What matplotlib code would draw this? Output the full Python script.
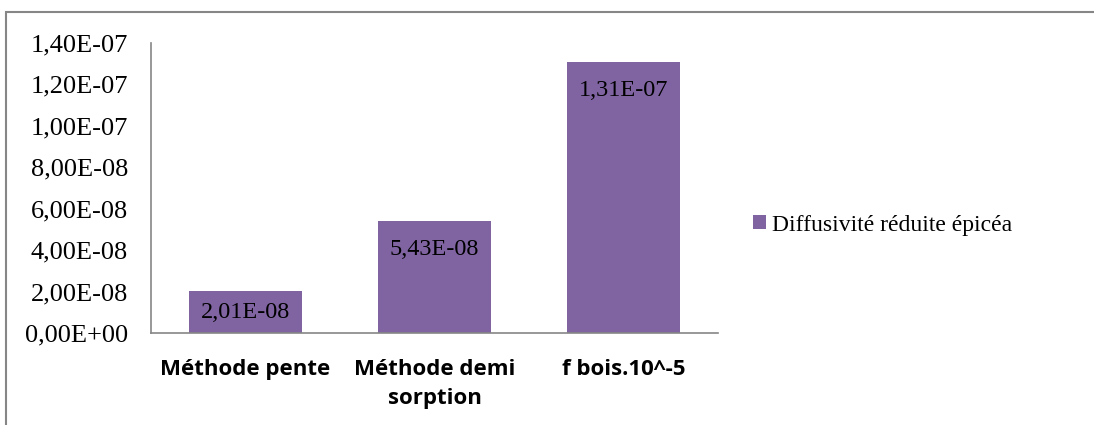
import matplotlib
matplotlib.use("Agg")
import matplotlib.pyplot as plt
from matplotlib.patches import Rectangle, Patch

categories = ["Méthode pente", "Méthode demi\nsorption", "f bois.10^-5"]
values = [2.01e-08, 5.43e-08, 1.31e-07]
value_labels = ["2,01E-08", "5,43E-08", "1,31E-07"]
y_ticks = [0, 2e-08, 4e-08, 6e-08, 8e-08, 1e-07, 1.2e-07, 1.4e-07]
y_tick_labels = ["0,00E+00", "2,00E-08", "4,00E-08", "6,00E-08",
                 "8,00E-08", "1,00E-07", "1,20E-07", "1,40E-07"]
series_name = "Diffusivité réduite épicéa"

BAR_COLOR = "#8064A2"
GRID_GRAY = "#868686"
SERIF = "Liberation Serif"
Y_MAX = 1.4e-07

fig = plt.figure(figsize=(10.94, 4.25), dpi=100)

# outer chart frame (only top and left visible in the reference)
fig.patches.append(Rectangle((6 / 1094, -0.1), 1.2, (1 - 12 / 425) + 0.1,
                             transform=fig.transFigure, fill=False,
                             edgecolor=GRID_GRAY, linewidth=1.5))

ax = fig.add_axes([151 / 1094, 1 - 333 / 425, (718 - 151) / 1094, (333 - 43) / 425])

x = range(len(categories))
bars = ax.bar(x, values, width=0.6, color=BAR_COLOR, label=series_name, zorder=2)

# labels sit near the top of each bar, or in the middle if the bar is too short
inset = Y_MAX * 29 / 290
for rect, lab in zip(bars, value_labels):
    h = rect.get_height()
    ax.text(rect.get_x() + rect.get_width() / 2, max(h - inset, h / 2), lab,
            ha="center", va="center", fontsize=17.5, family=SERIF, color="#000000")

ax.set_xlim(-0.5, len(categories) - 0.5)
ax.set_ylim(0, Y_MAX)
ax.set_yticks(y_ticks)
ax.set_yticklabels(y_tick_labels, family=SERIF, fontsize=19)
ax.set_xticks(list(x))
ax.set_xticklabels(categories, family="Open Sans", fontweight="bold", fontsize=16,
                   linespacing=1.5, va="top")
ax.tick_params(axis="both", length=0)
ax.tick_params(axis="x", pad=19)
ax.tick_params(axis="y", pad=16.5)

for side in ["top", "right"]:
    ax.spines[side].set_visible(False)
for side in ["left", "bottom"]:
    ax.spines[side].set_color(GRID_GRAY)
    ax.spines[side].set_linewidth(1.2)

handle = Patch(facecolor=BAR_COLOR, edgecolor="none")
fig.legend([handle], [series_name], loc="center left",
           bbox_to_anchor=(753 / 1094, 1 - 225 / 425), frameon=False,
           prop={"family": SERIF, "size": 17}, handlelength=0.55, handleheight=0.55,
           handletextpad=0.25, borderaxespad=0, borderpad=0)

fig.savefig("out.png", dpi=100, facecolor="white")
